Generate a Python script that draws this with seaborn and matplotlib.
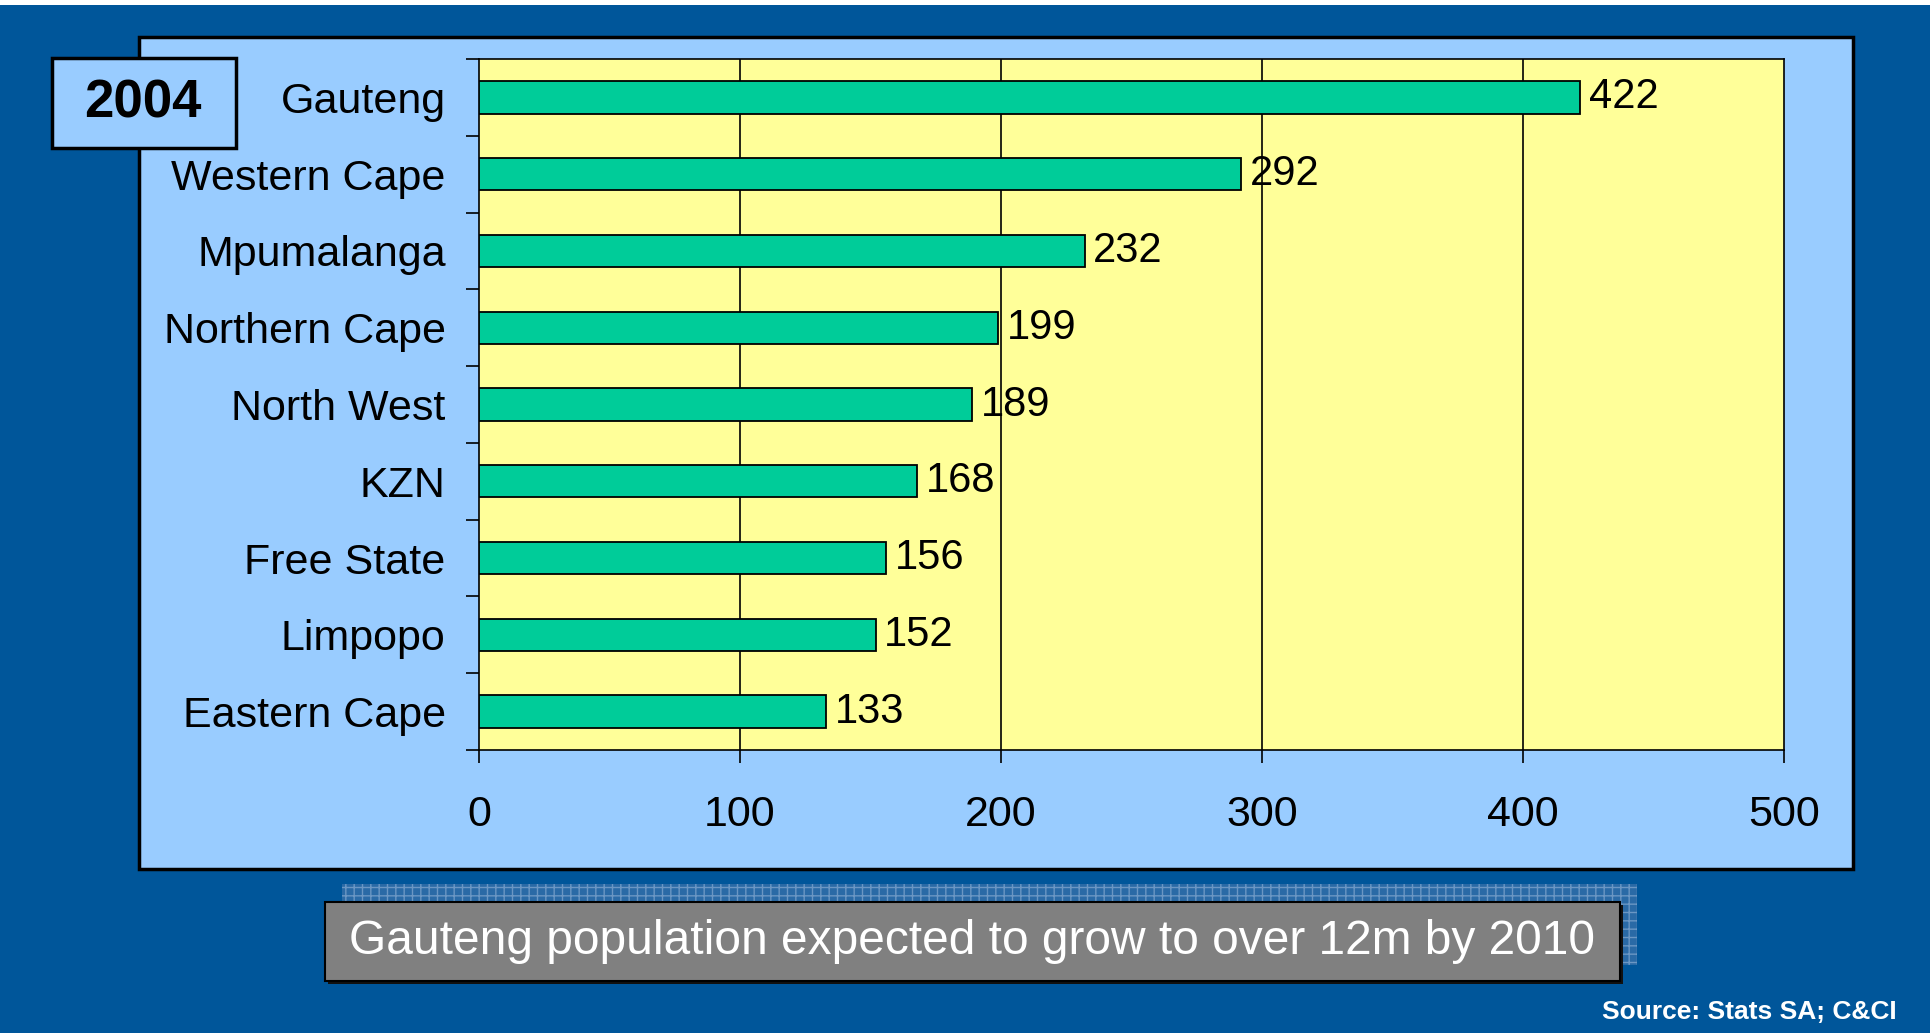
import matplotlib
matplotlib.use("Agg")
import matplotlib.pyplot as plt
from matplotlib.patches import Rectangle
import seaborn as sns
import pandas as pd

provinces = ["Gauteng", "Western Cape", "Mpumalanga", "Northern Cape", "North West",
             "KZN", "Free State", "Limpopo", "Eastern Cape"]
values = [422, 292, 232, 199, 189, 168, 156, 152, 133]
x_ticks = [0, 100, 200, 300, 400, 500]
year_label = "2004"
caption = "Gauteng population expected to grow to over 12m by 2010"
source = "Source: Stats SA; C&CI"

sns.set_theme(style="white")
plt.rcParams['font.family'] = ['Liberation Sans', 'DejaVu Sans']

DARK = "#00569A"
PANEL = "#99CCFF"
PLOTBG = "#FFFF99"
BAR = "#00CC99"

W, H = 1930, 1033
fig = plt.figure(figsize=(W / 100, H / 100), dpi=100)
fig.patch.set_facecolor(DARK)

def fx(x):
    return x / W

def fy(y):
    return 1 - y / H

# top white strip
fig.patches.append(Rectangle((0, fy(5)), 1, 5 / H, transform=fig.transFigure,
                             facecolor="white", edgecolor="none", zorder=-2))
# light blue panel
fig.patches.append(Rectangle((fx(139), fy(869)), 1714 / W, 832 / H, transform=fig.transFigure,
                             facecolor=PANEL, edgecolor="black", linewidth=2.5, zorder=-1))

df = pd.DataFrame({"province": provinces, "value": values})

ax = fig.add_axes([fx(479), fy(750), (1784 - 479) / W, (750 - 59) / H])
ax.set_zorder(2)
ax.set_facecolor(PLOTBG)
sns.barplot(data=df, y="province", x="value", orient="h", color=BAR, saturation=1,
            width=0.42, edgecolor="black", linewidth=1.3, ax=ax, zorder=3)
ax.set_xlim(0, 500)
ax.set_ylim(len(provinces) - 0.5, -0.5)
ax.set_xticks(x_ticks)
ax.set_xticklabels([str(t) for t in x_ticks])
ax.set_xlabel("")
ax.set_ylabel("")
for t in x_ticks[1:-1]:
    ax.axvline(t, color="black", linewidth=1.2, zorder=1)
for s in ax.spines.values():
    s.set_color("black")
    s.set_linewidth(1.2)
    s.set_visible(True)
ax.tick_params(axis="x", direction="out", length=9.5, width=1.2, color="black",
               labelsize=31, pad=23, labelcolor="black", bottom=True)
ax.tick_params(axis="y", which="major", length=0, labelsize=31, pad=24, labelcolor="black")
ax.set_yticks([i - 0.5 for i in range(len(provinces) + 1)], minor=True)
ax.tick_params(axis="y", which="minor", direction="out", length=9.5, width=1.2,
               color="black", left=True)
ax.grid(False)

for c in ax.containers:
    ax.bar_label(c, labels=[str(v) for v in values], padding=6, fontsize=30, color="black")

# year box
fig.patches.append(Rectangle((fx(52), fy(148)), 184 / W, 90 / H, transform=fig.transFigure,
                             facecolor=PANEL, edgecolor="black", linewidth=2.5, zorder=5))
fig.text(fx(143), fy(104), year_label, ha="center", va="center", fontsize=38,
         fontweight="bold", color="black", zorder=6)

# caption shadow (patterned)
fig.patches.append(Rectangle((fx(342), fy(965)), 1295 / W, 81 / H, transform=fig.transFigure,
                             facecolor="#2a6aa6", edgecolor="#6b97c4", hatch="++",
                             linewidth=0, zorder=1))
# caption box dark drop shadow
fig.patches.append(Rectangle((fx(328), fy(984)), 1295 / W, 79 / H, transform=fig.transFigure,
                             facecolor="#111111", edgecolor="none", zorder=2))
fig.patches.append(Rectangle((fx(325), fy(981)), 1295 / W, 79 / H, transform=fig.transFigure,
                             facecolor="#808080", edgecolor="black", linewidth=1.5, zorder=3))
fig.text(fx(972), fy(942), caption, ha="center", va="center", fontsize=34.5,
         color="white", zorder=4)

fig.text(fx(1897), fy(1012), source, ha="right", va="center", fontsize=19,
         fontweight="bold", color="white")

fig.savefig("out.png", dpi=100, facecolor=fig.get_facecolor())
